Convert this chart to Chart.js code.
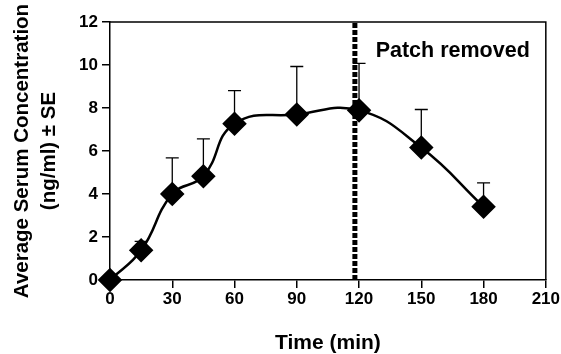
<!DOCTYPE html>
<html>
<head>
<meta charset="utf-8">
<script src="https://cdn.jsdelivr.net/npm/chart.js@4/dist/chart.umd.min.js"></script>
<style>
  html, body { margin: 0; padding: 0; background: #fff; }
  #wrap { width: 561px; height: 354px; }
</style>
</head>
<body>
<div id="wrap"><canvas id="graph"></canvas></div>
<script>
// time after patch application (min) and mean serum concentration
const times = [0, 15, 30, 45, 60, 90, 120, 150, 180];
const conc = [0, 1.38, 4.0, 4.83, 7.27, 7.7, 7.89, 6.16, 3.41];
// standard error (drawn upward only)
const se = [0, 0.42, 1.68, 1.73, 1.54, 2.23, 2.19, 1.77, 1.11];

const patchTime = 118;
const patchLabel = 'Patch removed';
const patchLabelAt = [128, 10.67];

const xTitle = 'Time (min)';
const yTitle = ['Average Serum Concentration', '(ng/ml) ± SE'];

const FONT = "'Liberation Sans', Arial, Helvetica, sans-serif";

const points = times.map((t, i) => ({ x: t, y: conc[i] }));

// SE whiskers, drawn under the markers
const errorBars = {
  id: 'errorBars',
  beforeDatasetsDraw(chart) {
    const { ctx, scales: { x, y } } = chart;
    ctx.save();
    ctx.strokeStyle = '#000';
    ctx.lineWidth = 1.3;
    times.forEach((t, i) => {
      if (!se[i]) return;
      const px = x.getPixelForValue(t);
      const py = y.getPixelForValue(conc[i]);
      const top = y.getPixelForValue(conc[i] + se[i]);
      ctx.beginPath();
      ctx.moveTo(px, py);
      ctx.lineTo(px, top);
      ctx.moveTo(px - 6.5, top);
      ctx.lineTo(px + 6.5, top);
      ctx.stroke();
    });
    ctx.restore();
  }
};

// top/right frame and the annotation text
const frame = {
  id: 'frame',
  afterDraw(chart) {
    const { ctx, chartArea: a, scales: { x, y } } = chart;
    ctx.save();
    ctx.strokeStyle = '#000';
    ctx.lineWidth = 1.5;
    ctx.beginPath();
    ctx.moveTo(a.left, a.top);
    ctx.lineTo(a.right, a.top);
    ctx.lineTo(a.right, a.bottom);
    ctx.stroke();

    ctx.fillStyle = '#000';
    ctx.font = 'bold 21.5px ' + FONT;
    ctx.textAlign = 'left';
    ctx.textBaseline = 'middle';
    ctx.fillText(patchLabel, x.getPixelForValue(patchLabelAt[0]), y.getPixelForValue(patchLabelAt[1]));
    ctx.restore();
  }
};

const config = {
  type: 'line',
  data: {
    datasets: [
      {
        label: 'Serum concentration',
        data: points,
        borderColor: '#000',
        backgroundColor: '#000',
        borderWidth: 2.5,
        tension: 0.45,
        pointStyle: 'rectRot',
        pointRadius: 10.5,
        pointHoverRadius: 10.5,
        pointBackgroundColor: '#000',
        pointBorderColor: '#000',
        clip: false,
        order: 0
      },
      {
        label: patchLabel,
        data: [{ x: patchTime, y: 0 }, { x: patchTime, y: 12 }],
        borderColor: '#000',
        borderWidth: 5,
        borderDash: [5, 2],
        pointRadius: 0,
        fill: false,
        clip: false,
        order: 1
      }
    ]
  },
  options: {
    responsive: true,
    maintainAspectRatio: false,
    animation: false,
    events: [],
    layout: { padding: { top: 22, right: 12, left: 0, bottom: 0 } },
    plugins: {
      legend: { display: false },
      tooltip: { enabled: false }
    },
    scales: {
      x: {
        type: 'linear',
        min: 0,
        max: 210,
        afterFit: (s) => { s.height = 74; },
        ticks: {
          stepSize: 30,
          color: '#000',
          padding: 1,
          font: { family: FONT, size: 17, weight: 'bold' }
        },
        grid: { drawOnChartArea: false, drawTicks: true, tickLength: 8, color: '#000', lineWidth: 1.5 },
        border: { color: '#000', width: 1.5 },
        title: {
          display: true,
          text: xTitle,
          color: '#000',
          padding: { top: 0, bottom: 0 },
          font: { family: FONT, size: 21, weight: 'bold', lineHeight: 1.0 }
        }
      },
      y: {
        min: 0,
        max: 12,
        afterFit: (s) => { s.width = 110; },
        ticks: {
          stepSize: 2,
          color: '#000',
          padding: 4,
          font: { family: FONT, size: 17, weight: 'bold' }
        },
        grid: { drawOnChartArea: false, drawTicks: true, tickLength: 8, color: '#000', lineWidth: 1.5 },
        border: { color: '#000', width: 1.5 },
        title: {
          display: true,
          text: yTitle,
          color: '#000',
          padding: { top: 9, bottom: 0 },
          font: { family: FONT, size: 20.5, weight: 'bold', lineHeight: 1.3 }
        }
      }
    }
  },
  plugins: [errorBars, frame]
};

new Chart(document.getElementById('graph'), config);
</script>
</body>
</html>
